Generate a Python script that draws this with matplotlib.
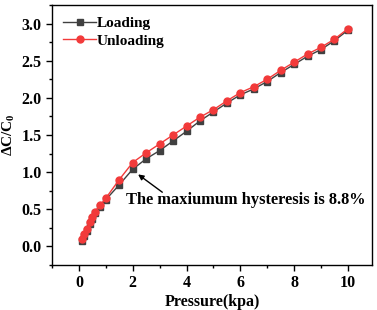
import matplotlib
matplotlib.use("Agg")
import matplotlib.pyplot as plt
from matplotlib.ticker import MultipleLocator

# ---- data ----
pressure = [0.1, 0.2, 0.3, 0.4, 0.5, 0.6, 0.8, 1.0, 1.5, 2.0, 2.5, 3.0, 3.5,
            4.0, 4.5, 5.0, 5.5, 6.0, 6.5, 7.0, 7.5, 8.0, 8.5, 9.0, 9.5, 10.0]
loading = [0.07, 0.14, 0.21, 0.30, 0.37, 0.45, 0.53, 0.63, 0.83, 1.04, 1.18,
           1.29, 1.42, 1.55, 1.69, 1.81, 1.93, 2.04, 2.12, 2.22, 2.34, 2.45,
           2.56, 2.65, 2.77, 2.91]
unloading = [0.10, 0.17, 0.235, 0.33, 0.40, 0.47, 0.56, 0.65, 0.90, 1.13,
             1.26, 1.38, 1.50, 1.62, 1.74, 1.84, 1.96, 2.07, 2.15, 2.25, 2.37,
             2.48, 2.59, 2.68, 2.79, 2.93]

NOTE = "The maxiumum hysteresis is 8.8%"

plt.rcParams["font.family"] = ["Liberation Serif", "DejaVu Serif"]
plt.rcParams["font.weight"] = "bold"
plt.rcParams["mathtext.fontset"] = "custom"
plt.rcParams["mathtext.rm"] = "Liberation Serif:bold"
plt.rcParams["mathtext.bf"] = "Liberation Serif:bold"

fig = plt.figure(figsize=(3.77, 3.10), dpi=100)
ax = fig.add_axes([0.138, 0.145, 0.849, 0.839])

ax.plot(pressure, loading, "s-", color="#404040", lw=1.0, ms=4.5,
        label="Loading")
ax.plot(pressure, unloading, "o-", color="#f23a3a", lw=1.0, ms=5,
        label="Unloading")

ax.set_xlim(-1, 10.9)
ax.set_ylim(-0.25, 3.25)
ax.xaxis.set_major_locator(MultipleLocator(2))
ax.xaxis.set_minor_locator(MultipleLocator(1))
ax.yaxis.set_major_locator(MultipleLocator(0.5))
ax.yaxis.set_minor_locator(MultipleLocator(0.25))
ax.tick_params(which="both", direction="out", top=False, right=False,
               labelsize=11.5, width=1.0)
ax.tick_params(which="major", length=4)
ax.tick_params(which="minor", length=2.5)
for s in ax.spines.values():
    s.set_linewidth(1.0)

ax.set_xlabel("Pressure(kpa)", fontsize=11.5, fontweight="bold", labelpad=2)
ax.set_ylabel(r"ΔC/C$_\mathbf{0}$", fontsize=11, fontweight="bold",
              labelpad=3)

# arrow pointing at the widest gap, text sits below-left of the tail
ax.annotate("", xy=(2.2, 0.97), xytext=(3.1, 0.73),
            arrowprops=dict(arrowstyle="-|>", color="black", lw=1.0,
                            shrinkA=0, shrinkB=0, mutation_scale=8))
ax.text(1.74, 0.62, NOTE, fontsize=11.8, fontweight="bold",
        ha="left", va="center")

ax.legend(loc="upper left", frameon=False, numpoints=1, handlelength=2.1,
          handletextpad=0.1, labelspacing=0.25, borderaxespad=0.45,
          borderpad=0.3, prop={"weight": "bold", "size": 11})

fig.savefig("out.png", dpi=100)
